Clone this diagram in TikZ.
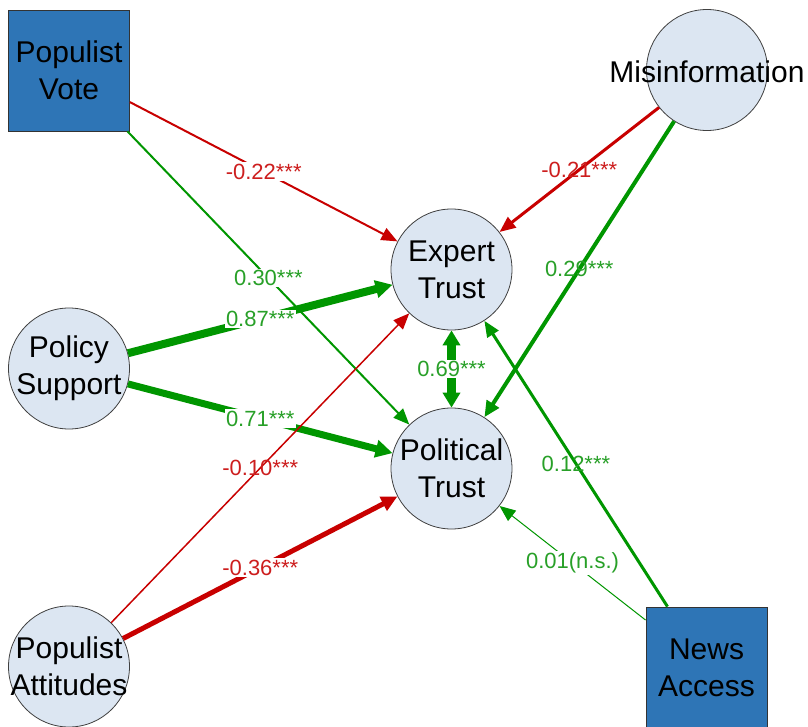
\documentclass[tikz,border=0pt]{standalone}
\usepackage{fontspec}
\setmainfont{Liberation Sans}
\usetikzlibrary{arrows.meta}
\definecolor{ered}{RGB}{200,0,0}
\definecolor{egreen}{RGB}{0,150,0}
\definecolor{lred}{RGB}{205,30,30}
\definecolor{lgreen}{RGB}{40,160,40}
\definecolor{cfill}{RGB}{220,230,242}
\definecolor{sqfill}{RGB}{46,117,182}
\begin{document}
\begin{tikzpicture}[x=1pt,y=-1pt,
  circ/.style={circle,draw=black!75,line width=0.8pt,fill=cfill,minimum size=121pt,inner sep=0pt},
  sq/.style={rectangle,draw=black!80,line width=0.8pt,fill=sqfill,minimum size=121pt,inner sep=0pt},
  txt/.style={font=\fontsize{30}{37}\selectfont,align=center,inner sep=0pt},
  lab/.style={font=\fontsize{22}{24}\selectfont,inner sep=1.5pt},
  labbg/.style={lab,fill=white},
  redge/.style={draw=ered,-{Triangle[length=16pt,width=13pt]}},
  gedge/.style={draw=egreen,-{Triangle[length=16pt,width=13pt]}},
  gthick/.style={draw=egreen,-{Triangle[length=17pt,width=17pt]}},
]
\fill[white] (0,0) rectangle (808,727);
\useasboundingbox (0,0) rectangle (808,727);

% nodes
\node[sq] (pv) at (69,70.5) {};
\node[txt] (pvt) at (pv) {Populist\\Vote};
\node[circ] (mi) at (707,70) {};
\node[txt] (mit) at (707,72) {Misinformation};
\node[circ] (et) at (451.5,269.5) {};
\node[txt] (ett) at (et) {Expert\\Trust};
\node[circ] (pt) at (451.5,468.5) {};
\node[txt] (ptt) at (pt) {Political\\Trust};
\node[circ] (ps) at (69,368.5) {};
\node[txt] (pst) at (ps) {Policy\\Support};
\node[circ] (pa) at (69,666.5) {};
\node[txt] (pat) at (pa) {Populist\\Attitudes};
\node[sq] (na) at (706.5,667.5) {};
\node[txt] (nat) at (na) {News\\Access};

% edges
\draw[redge,line width=2pt] (pv) -- node[labbg,text=lred]{-0.22***} (et);
\draw[gedge,line width=2pt] (pv) -- node[labbg,text=lgreen]{0.30***} (pt);
\draw[gthick,line width=8pt] (ps) -- node[labbg,text=lgreen]{0.87***} (et);
\draw[gthick,line width=7pt] (ps) -- node[labbg,text=lgreen]{0.71***} (pt);
\draw[redge,line width=1.5pt] (pa) -- node[lab,text=lred]{-0.10***} (et);
\draw[redge,line width=5pt,-{Triangle[length=16pt,width=15pt]}] (pa) -- node[labbg,text=lred]{-0.36***} (pt);
\draw[redge,line width=3pt] (mi) -- node[lab,text=lred]{-0.21***} (et);
\draw[gedge,line width=4pt,-{Triangle[length=16pt,width=14pt]}] (mi) -- node[lab,text=lgreen]{0.29***} (pt);
\draw[gedge,line width=3pt] (na) -- node[lab,text=lgreen]{0.12***} (et);
\draw[gedge,line width=1pt] (na) -- node[labbg,text=lgreen]{0.01(n.s.)} (pt);
\draw[draw=egreen,line width=9pt,{Triangle[length=15pt,width=17pt]}-{Triangle[length=15pt,width=17pt]}] (et) -- node[labbg,text=lgreen]{0.69***} (pt);
\end{tikzpicture}
\end{document}
